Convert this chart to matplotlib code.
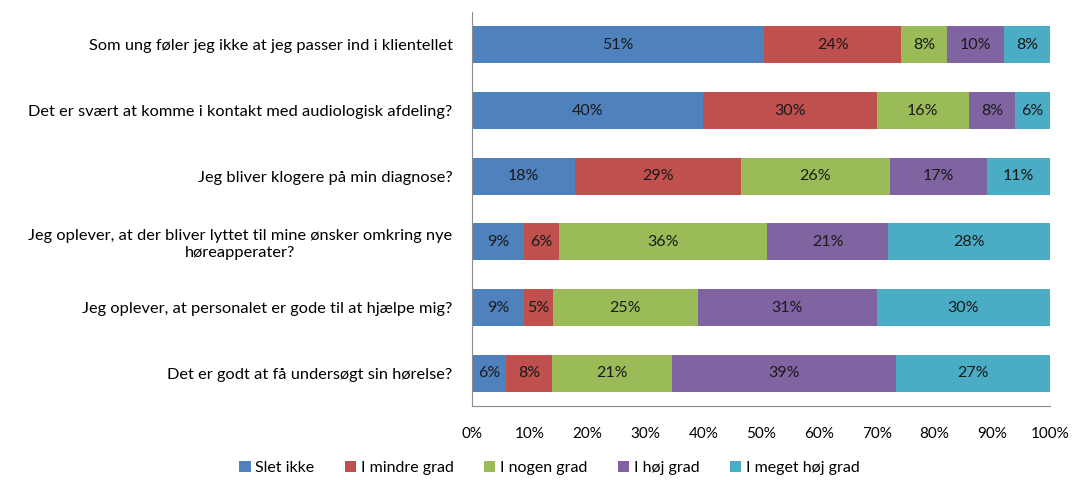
import numpy as np
import matplotlib
matplotlib.use('Agg')
import matplotlib.pyplot as plt
from matplotlib.ticker import PercentFormatter

plt.rcParams['font.family'] = ['Lato', 'DejaVu Sans']

categories = [
    "Som ung føler jeg ikke at jeg passer ind i klientellet",
    "Det er svært at komme i kontakt med audiologisk afdeling?",
    "Jeg bliver klogere på min diagnose?",
    "Jeg oplever, at der bliver lyttet til mine ønsker omkring nye\nhøreapperater?",
    "Jeg oplever, at personalet er gode til at hjælpe mig?",
    "Det er godt at få undersøgt sin hørelse?",
]
series_names = ["Slet ikke", "I mindre grad", "I nogen grad", "I høj grad", "I meget høj grad"]
slet_ikke = [51, 40, 18, 9, 9, 6]
i_mindre_grad = [24, 30, 29, 6, 5, 8]
i_nogen_grad = [8, 16, 26, 36, 25, 21]
i_hoej_grad = [10, 8, 17, 21, 31, 39]
i_meget_hoej_grad = [8, 6, 11, 28, 30, 27]
colors = ['#4F81BD', '#C0504D', '#9BBB59', '#8064A2', '#4BACC6']

values = np.array([slet_ikke, i_mindre_grad, i_nogen_grad, i_hoej_grad, i_meget_hoej_grad], dtype=float)
shares = values / values.sum(axis=0) * 100  # 100% stablet som i Excel

fig = plt.figure(figsize=(10.73, 4.8), dpi=100)
ax = fig.add_axes([0.44, 0.154, 0.5386, 0.821])

y = np.arange(len(categories))
left = np.zeros(len(categories))
for i, name in enumerate(series_names):
    bars = ax.barh(y, shares[i], left=left, height=0.56, color=colors[i], label=name)
    for j, b in enumerate(bars):
        ax.text(left[j] + shares[i][j] / 2, y[j], '%d%%' % values[i][j],
                ha='center', va='center', fontsize=11.5, color='#1a1a1a')
    left += shares[i]

ax.set_xlim(0, 100)
ax.set_ylim(len(categories) - 0.5, -0.5)
ax.set_yticks(y)
ax.set_yticklabels(categories, fontsize=11.8, multialignment='center')
ax.set_xticks(np.arange(0, 101, 10))
ax.xaxis.set_major_formatter(PercentFormatter(decimals=0))
ax.tick_params(axis='x', length=0, labelsize=11, pad=15)
ax.tick_params(axis='y', length=0, pad=14)
for s in ['top', 'right']:
    ax.spines[s].set_visible(False)
for s in ['left', 'bottom']:
    ax.spines[s].set_color('#8c8c8c')

ax.legend(loc='center', bbox_to_anchor=(0.512, 0.025), bbox_transform=fig.transFigure,
          ncol=5, frameon=False, fontsize=11.5, handlelength=0.7, handleheight=0.7,
          handletextpad=0.3, columnspacing=1.9)

fig.savefig('out.png', dpi=100)
